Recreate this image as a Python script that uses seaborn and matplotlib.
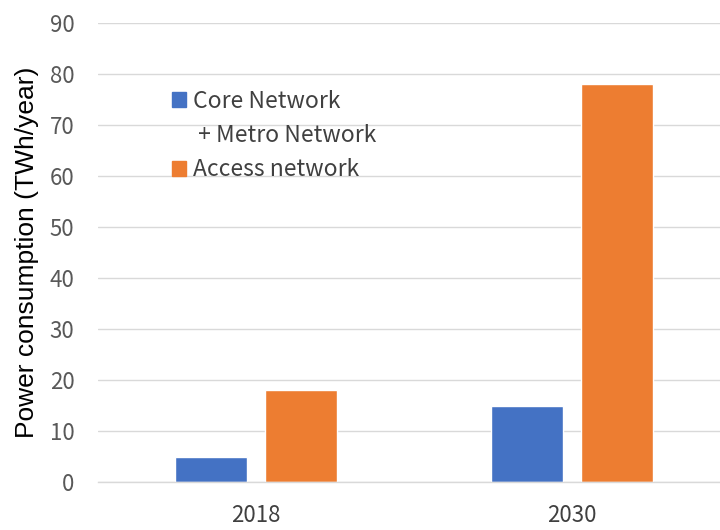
import seaborn as sns
import matplotlib.pyplot as plt
import matplotlib.patches as mpatches
import pandas as pd

# Values
years = ['2018', '2030']
series = ['Core Network + Metro Network', 'Access network']
core_metro = [5, 15]
access = [18, 78]
y_ticks = [0, 10, 20, 30, 40, 50, 60, 70, 80, 90]

colors = ['#4472C4', '#ED7D31']

df = pd.DataFrame({
    'Year': years * 2,
    'Series': [series[0]] * len(years) + [series[1]] * len(years),
    'Value': core_metro + access,
})

sns.set_style("white")
plt.rcParams['font.family'] = ['Noto Sans CJK JP', 'DejaVu Sans']

fig = plt.figure(figsize=(7.2, 5.3), dpi=100)
ax = fig.add_axes([98 / 720, 48 / 530, 632 / 720, 459 / 530])

sns.barplot(data=df, x='Year', y='Value', hue='Series', palette=colors,
            width=0.57, gap=0.21, saturation=1, legend=False, ax=ax)

ax.set_xlim(-0.5, 1.5)
ax.set_ylim(0, 90)
ax.set_yticks(y_ticks)
ax.yaxis.grid(True, color='#D9D9D9', linewidth=1)
ax.set_axisbelow(True)
for side in ['top', 'right', 'left']:
    ax.spines[side].set_visible(False)
ax.spines['bottom'].set_color('#D9D9D9')
ax.spines['bottom'].set_linewidth(1)

ax.tick_params(axis='both', length=0, labelsize=16)
ax.tick_params(axis='x', pad=16, labelcolor='#404040')
ax.tick_params(axis='y', pad=17, labelcolor='#595959')
ax.set_xlabel('')
ax.set_ylabel('Power consumption (TWh/year)', fontsize=19, color='black',
              family=['Liberation Sans', 'DejaVu Sans'])
ax.yaxis.set_label_coords(-0.094, 0.5)

handles = [
    mpatches.Patch(color=colors[0]),
    mpatches.Patch(color='none'),
    mpatches.Patch(color=colors[1]),
]
labels = ['Core Network', ' + Metro Network', 'Access network']
ax.legend(handles, labels, loc='upper left', bbox_to_anchor=(0.117, 0.855),
          frameon=False, fontsize=16.5, handlelength=0.6, handleheight=0.6,
          handletextpad=0.3, labelspacing=0.5, borderpad=0, borderaxespad=0,
          labelcolor='#404040')

fig.savefig('out.png', dpi=100)
